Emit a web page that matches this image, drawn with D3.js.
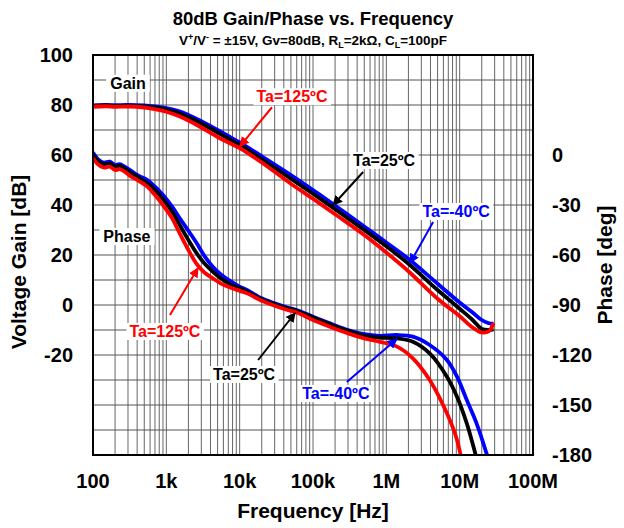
<!DOCTYPE html>
<html>
<head>
<meta charset="utf-8">
<script src="https://cdn.jsdelivr.net/npm/d3@7"></script>
<style>
  body { margin: 0; background: #fff; }
  svg text { font-family: "Liberation Sans", Arial, sans-serif; font-weight: bold; }
</style>
</head>
<body>
<script>
// gain data, frequency in Hz, gain in dB
var gainFreq = [100, 150, 200, 300, 500, 700, 1e3, 1.5e3, 2e3, 3e3, 5e3, 7e3, 1e4, 2e4, 5e4, 1e5, 2e5, 5e5, 1e6, 2e6, 5e6, 1e7, 1.5e7, 2e7, 2.5e7, 2.9e7];
var gainM40 = [79.8, 80.0, 79.9, 80.0, 79.8, 79.4, 78.8, 77.5, 76.0, 73.5, 70.0, 67.6, 65.0, 59.5, 52.0, 46.0, 39.8, 31.4, 25.0, 18.5, 8.5, 1.0, -3.0, -6.0, -7.3, -7.5];
var gain25 = [79.6, 79.8, 79.6, 79.7, 79.4, 79.0, 78.2, 76.7, 75.2, 72.6, 69.0, 66.5, 64.0, 58.3, 50.5, 44.5, 38.3, 30.0, 23.5, 16.5, 6.0, -1.5, -6.0, -9.6, -10.0, -9.8];
var gain125 = [79.3, 79.5, 79.3, 79.4, 79.0, 78.3, 77.3, 75.5, 73.8, 71.0, 67.2, 65.0, 62.8, 57.0, 48.5, 42.5, 36.3, 28.0, 21.0, 13.5, 2.5, -4.5, -9.0, -11.0, -10.5, -7.2];

// phase data, degrees
var phaseFreq = [100, 120, 140, 170, 200, 230, 270, 320, 400, 550, 700, 900, 1.2e3, 1.5e3, 2e3, 2.6e3, 3.3e3, 4.3e3, 5.5e3, 7.4e3, 1e4, 1.26e4, 2e4, 3e4, 4.5e4, 6e4, 1e5, 1.7e5, 3e5, 5e5, 8e5, 1.4e6, 2.3e6, 3.9e6, 6.7e6, 9.2e6, 1.25e7, 1.7e7, 2.4e7];
var phaseM40 = [1.5, -3, -4.5, -4, -6, -5.5, -7, -9, -12, -15, -19, -24, -31, -37.5, -45.5, -53, -60.5, -67, -71.5, -75.5, -79, -81, -86, -89, -91.5, -93, -97, -101, -105, -107.5, -108.5, -108, -109, -114, -123, -133, -147, -161, -181];
var phase25 = [0, -4, -5.5, -5, -7, -6.5, -8, -10.5, -13, -17, -21, -26.5, -34, -41.5, -51, -59, -65, -70, -74, -77.5, -80, -82, -86.5, -89.5, -92, -93.5, -97.5, -101.5, -105.5, -108.5, -109.5, -110, -112, -119, -133, -145, -161, -182, null];
var phase125 = [-2, -6, -7.5, -7, -9, -8.5, -10, -12.5, -15, -19, -24, -30, -38, -46.5, -57, -65.5, -70.5, -74, -77, -79.5, -81.5, -83, -87.5, -90.5, -93, -94.5, -99, -103, -107, -110, -112, -115, -122, -135, -155, -171, -200, null, null];

// axis ticks
var xTicks = [100, 1e3, 1e4, 1e5, 1e6, 1e7, 1e8];
var xTickLabels = ['100', '1k', '10k', '100k', '1M', '10M', '100M'];
var gainTicks = [100, 80, 60, 40, 20, 0, -20];
var phaseTicks = [0, -30, -60, -90, -120, -150, -180];

var colors = {m40: '#0000ff', t25: '#000000', t125: '#ff0000'};

var width = 624, height = 528;
var margin = {left: 93, right: 91, top: 55, bottom: 73};

var svg = d3.select('body').append('svg')
  .attr('width', width)
  .attr('height', height);

var x = d3.scaleLog().domain([100, 1e8]).range([margin.left, width - margin.right]);
var yGain = d3.scaleLinear().domain([-60, 100]).range([height - margin.bottom, margin.top]);
var yPhase = d3.scaleLinear().domain([-180, 60]).range([height - margin.bottom, margin.top]);

// grid
var grid = svg.append('g');
var minorX = [];
for (var dec = 100; dec < 1e8; dec *= 10) {
  for (var k = 2; k <= 9; k++) minorX.push(dec * k);
}
grid.selectAll('line.vx')
  .data(xTicks.concat(minorX))
  .enter().append('line')
  .attr('x1', function(d) { return x(d); })
  .attr('x2', function(d) { return x(d); })
  .attr('y1', yGain(100))
  .attr('y2', yGain(-60))
  .attr('stroke', '#555')
  .attr('stroke-width', 0.9);
grid.selectAll('line.hy')
  .data(d3.range(-60, 101, 10))
  .enter().append('line')
  .attr('x1', x(100))
  .attr('x2', x(1e8))
  .attr('y1', function(d) { return yGain(d); })
  .attr('y2', function(d) { return yGain(d); })
  .attr('stroke', '#555')
  .attr('stroke-width', 1);

// clip for curves
svg.append('clipPath').attr('id', 'plot')
  .append('rect')
  .attr('x', x(100)).attr('y', yGain(100))
  .attr('width', x(1e8) - x(100))
  .attr('height', yGain(-60) - yGain(100));

var curves = svg.append('g').attr('clip-path', 'url(#plot)');

function drawSeries(freqs, vals, yScale, color) {
  var pts = freqs.map(function(f, i) { return [f, vals[i]]; });
  var line = d3.line()
    .defined(function(d) { return d[1] !== null; })
    .x(function(d) { return x(d[0]); })
    .y(function(d) { return yScale(d[1]); })
    .curve(d3.curveCatmullRom.alpha(0.5));
  curves.append('path')
    .datum(pts)
    .attr('d', line)
    .attr('fill', 'none')
    .attr('stroke', color)
    .attr('stroke-width', 3.8)
    .attr('stroke-linejoin', 'round');
}

drawSeries(gainFreq, gainM40, yGain, colors.m40);
drawSeries(gainFreq, gain25, yGain, colors.t25);
drawSeries(gainFreq, gain125, yGain, colors.t125);
drawSeries(phaseFreq, phaseM40, yPhase, colors.m40);
drawSeries(phaseFreq, phase25, yPhase, colors.t25);
drawSeries(phaseFreq, phase125, yPhase, colors.t125);

// frame
svg.append('rect')
  .attr('x', x(100)).attr('y', yGain(100))
  .attr('width', x(1e8) - x(100))
  .attr('height', yGain(-60) - yGain(100))
  .attr('fill', 'none')
  .attr('stroke', '#000')
  .attr('stroke-width', 2);

// arrowheads
var defs = svg.append('defs');
Object.keys(colors).forEach(function(key) {
  defs.append('marker')
    .attr('id', 'arr-' + key)
    .attr('viewBox', '0 0 10 10')
    .attr('refX', 9).attr('refY', 5)
    .attr('markerWidth', 5).attr('markerHeight', 5)
    .attr('orient', 'auto')
    .append('path')
    .attr('d', 'M0,0L10,5L0,10z')
    .attr('fill', colors[key]);
});

// annotations: tip on the curve (data units), label offset in px
var annotations = [
  {text: 'Ta=125ºC', key: 't125', f: 1.01e4, v: 63.5, y: yGain, lx: 52, ly: -44, sx: 32, sy: -39},
  {text: 'Ta=25ºC', key: 't25', f: 1.88e5, v: 40, y: yGain, lx: 51, ly: -39, sx: 30, sy: -33},
  {text: 'Ta=-40ºC', key: 'm40', f: 2.11e6, v: 16.8, y: yGain, lx: 46, ly: -46, sx: 23, sy: -41},
  {text: 'Ta=125ºC', key: 't125', f: 2.7e3, v: -67.8, y: yPhase, lx: -33, ly: 69, sx: -28, sy: 47},
  {text: 'Ta=25ºC', key: 't25', f: 5.7e4, v: -94.8, y: yPhase, lx: -51, ly: 67, sx: -37, sy: 47},
  {text: 'Ta=-40ºC', key: 'm40', f: 1.39e6, v: -110.4, y: yPhase, lx: -61, ly: 60, sx: -50, sy: 43}
];

var ann = svg.append('g');
annotations.forEach(function(a) {
  var tx = x(a.f), ty = a.y(a.v);
  ann.append('line')
    .attr('x1', tx + a.sx).attr('y1', ty + a.sy)
    .attr('x2', tx).attr('y2', ty)
    .attr('stroke', colors[a.key])
    .attr('stroke-width', 2)
    .attr('marker-end', 'url(#arr-' + a.key + ')');
  var g = ann.append('g');
  var t = g.append('text')
    .attr('x', tx + a.lx).attr('y', ty + a.ly)
    .attr('text-anchor', 'middle')
    .attr('font-size', 16)
    .attr('fill', colors[a.key])
    .text(a.text);
  var bb = t.node().getBBox();
  g.insert('rect', 'text')
    .attr('x', bb.x - 3).attr('y', bb.y)
    .attr('width', bb.width + 6).attr('height', bb.height)
    .attr('fill', '#fff');
});

// Gain / Phase labels
[{text: 'Gain', f: 300, v: 86.5}, {text: 'Phase', f: 290, v: 25.2}].forEach(function(d) {
  var g = ann.append('g');
  var t = g.append('text')
    .attr('x', x(d.f)).attr('y', yGain(d.v))
    .attr('text-anchor', 'middle')
    .attr('font-size', 16)
    .text(d.text);
  var bb = t.node().getBBox();
  g.insert('rect', 'text')
    .attr('x', bb.x - 4).attr('y', bb.y)
    .attr('width', bb.width + 8).attr('height', bb.height)
    .attr('fill', '#fff');
});

// tick labels
svg.append('g').selectAll('text')
  .data(xTicks)
  .enter().append('text')
  .attr('x', function(d) { return x(d); })
  .attr('y', 488)
  .attr('text-anchor', 'middle')
  .attr('font-size', 20)
  .text(function(d, i) { return xTickLabels[i]; });

svg.append('g').selectAll('text')
  .data(gainTicks)
  .enter().append('text')
  .attr('x', 73)
  .attr('y', function(d) { return yGain(d); })
  .attr('dy', '0.36em')
  .attr('text-anchor', 'end')
  .attr('font-size', 20)
  .text(function(d) { return d; });

svg.append('g').selectAll('text')
  .data(phaseTicks)
  .enter().append('text')
  .attr('x', 552)
  .attr('y', function(d) { return yPhase(d); })
  .attr('dy', '0.36em')
  .attr('font-size', 20)
  .text(function(d) { return d; });

// axis titles
svg.append('text')
  .attr('x', 313).attr('y', 518)
  .attr('text-anchor', 'middle')
  .attr('font-size', 21)
  .text('Frequency [Hz]');

svg.append('text')
  .attr('transform', 'translate(26,262) rotate(-90)')
  .attr('text-anchor', 'middle')
  .attr('font-size', 21)
  .text('Voltage Gain [dB]');

svg.append('text')
  .attr('transform', 'translate(612,265) rotate(-90)')
  .attr('text-anchor', 'middle')
  .attr('font-size', 21)
  .text('Phase [deg]');

// titles
svg.append('text')
  .attr('x', 313).attr('y', 25)
  .attr('text-anchor', 'middle')
  .attr('font-size', 18.5)
  .text('80dB Gain/Phase vs. Frequency');

var sub = svg.append('text')
  .attr('x', 313).attr('y', 45)
  .attr('text-anchor', 'middle')
  .attr('font-size', 13.5);
sub.append('tspan').text('V');
sub.append('tspan').attr('font-size', 9).attr('dy', -5).text('+');
sub.append('tspan').attr('dy', 5).text('/V');
sub.append('tspan').attr('font-size', 9).attr('dy', -5).text('-');
sub.append('tspan').attr('dy', 5).text(' = ±15V, Gv=80dB, R');
sub.append('tspan').attr('font-size', 9).attr('dy', 3).text('L');
sub.append('tspan').attr('dy', -3).text('=2kΩ, C');
sub.append('tspan').attr('font-size', 9).attr('dy', 3).text('L');
sub.append('tspan').attr('dy', -3).text('=100pF');
</script>
</body>
</html>
